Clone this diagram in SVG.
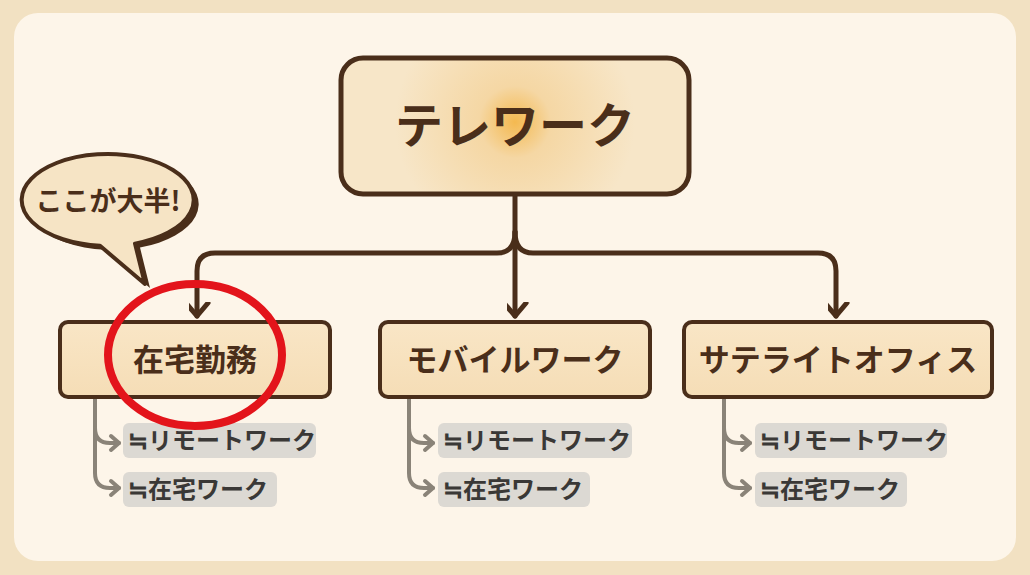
<svg xmlns="http://www.w3.org/2000/svg" width="1030" height="575" viewBox="0 0 1030 575">
<defs>
<radialGradient id="glow" cx="515" cy="122" r="120" gradientUnits="userSpaceOnUse">
<stop offset="0" stop-color="#f4b950"/>
<stop offset="0.3" stop-color="#f5d7a4"/>
<stop offset="1" stop-color="#f7e6c8"/>
</radialGradient>
<linearGradient id="boxfill" x1="0" y1="0" x2="0" y2="1">
<stop offset="0" stop-color="#f9e6c6"/>
<stop offset="1" stop-color="#f5ddb6"/>
</linearGradient>
<marker id="arr" viewBox="0 0 28 28" refX="14" refY="20" markerWidth="28" markerHeight="28" markerUnits="userSpaceOnUse" orient="auto">
<path d="M3,7 L14,20 L25,7" fill="none" stroke="#4a2e1a" stroke-width="5" stroke-linecap="round" stroke-linejoin="round" transform="rotate(-90 14 20)"/>
</marker>
<marker id="garr" viewBox="0 0 20 20" refX="15" refY="10" markerWidth="20" markerHeight="20" markerUnits="userSpaceOnUse" orient="auto">
<path d="M7,3 L15,10 L7,17" fill="none" stroke="#8a8378" stroke-width="4" stroke-linecap="round" stroke-linejoin="round"/>
</marker>
</defs>
<style>
.node{fill:url(#boxfill);stroke:#4a2e1a;stroke-width:4}
.lbl{font-family:"Noto Sans CJK JP","Noto Sans",sans-serif;font-weight:700;fill:#4a2e1a;text-anchor:middle}
.sub{font-family:"Noto Sans CJK JP","Noto Sans",sans-serif;font-weight:700;fill:#3a3836;font-size:24px}
.tag{fill:#d9d6d0;opacity:0.92}
.con{fill:none;stroke:#4a2e1a;stroke-width:5;stroke-linecap:round;stroke-linejoin:round}
.gcon{fill:none;stroke:#8a8378;stroke-width:4;stroke-linecap:round}
</style>
<rect x="0" y="0" width="1030" height="575" fill="#f2e1c2"/>
<rect x="14" y="13" width="1002" height="548" rx="24" fill="#fdf5e9"/>

<g id="connectors">
<path class="con" d="M515,195 V232 Q515,253 497,253 H215 Q197,253 197,271 V316" marker-end="url(#arr)"/>
<path class="con" d="M515,232 Q515,253 533,253 H818 Q836,253 836,271 V316" marker-end="url(#arr)"/>
<path class="con" d="M515,232 V316" marker-end="url(#arr)"/>
<path class="gcon" d="M95,399 V428 Q95,443 110,443 H119" marker-end="url(#garr)"/>
<path class="gcon" d="M95,428 V473 Q95,488 110,488 H119" marker-end="url(#garr)"/>
<path class="gcon" d="M409,399 V428 Q409,443 424,443 H433" marker-end="url(#garr)"/>
<path class="gcon" d="M409,428 V473 Q409,488 424,488 H433" marker-end="url(#garr)"/>
<path class="gcon" d="M724,399 V428 Q724,443 739,443 H750" marker-end="url(#garr)"/>
<path class="gcon" d="M724,428 V473 Q724,488 739,488 H750" marker-end="url(#garr)"/>
</g>

<g id="telework">
<rect x="341" y="58" width="348" height="136" rx="22" fill="url(#glow)" stroke="#4a2e1a" stroke-width="5"/>
<text class="lbl" x="515" y="143" font-size="48" font-weight="900">テレワーク</text>
</g>

<g id="zaitaku">
<rect class="node" x="60" y="322" width="270" height="75" rx="8"/>
<text class="lbl" x="195" y="371" font-size="31">在宅勤務</text>
</g>

<g id="mobile">
<rect class="node" x="380" y="322" width="270" height="75" rx="8"/>
<text class="lbl" x="515" y="371" font-size="31">モバイルワーク</text>
</g>

<g id="satellite">
<rect class="node" x="684" y="322" width="308" height="75" rx="8"/>
<text class="lbl" x="838" y="371" font-size="31">サテライトオフィス</text>
</g>

<g id="sub-zaitaku">
<rect class="tag" x="123" y="423" width="193" height="35" rx="6"/>
<text class="sub" x="128" y="449">≒リモートワーク</text>
<rect class="tag" x="123" y="472" width="154" height="35" rx="6"/>
<text class="sub" x="128" y="498">≒在宅ワーク</text>
</g>

<g id="sub-mobile">
<rect class="tag" x="438" y="423" width="194" height="35" rx="6"/>
<text class="sub" x="443" y="449">≒リモートワーク</text>
<rect class="tag" x="438" y="472" width="152" height="35" rx="6"/>
<text class="sub" x="443" y="498">≒在宅ワーク</text>
</g>

<g id="sub-satellite">
<rect class="tag" x="755" y="423" width="192" height="35" rx="6"/>
<text class="sub" x="760" y="449">≒リモートワーク</text>
<rect class="tag" x="755" y="472" width="152" height="35" rx="6"/>
<text class="sub" x="760" y="498">≒在宅ワーク</text>
</g>

<g id="bubble">
<path d="M100,245.8 L145,284 L135,243.6 A86,46 0 1 0 100,245.8 Z" fill="#4a2e1a" transform="translate(5,4)"/>
<path d="M100,245.8 L145,284 L135,243.6 A86,46 0 1 0 100,245.8 Z" fill="#f6e4c5" stroke="#4a2e1a" stroke-width="4" stroke-linejoin="round"/>
<text class="lbl" x="108" y="211" font-size="27">ここが大半!</text>
</g>

<g id="highlight">
<ellipse cx="195" cy="355" rx="87" ry="71" fill="none" stroke="#e3141b" stroke-width="8"/>
</g>
</svg>
